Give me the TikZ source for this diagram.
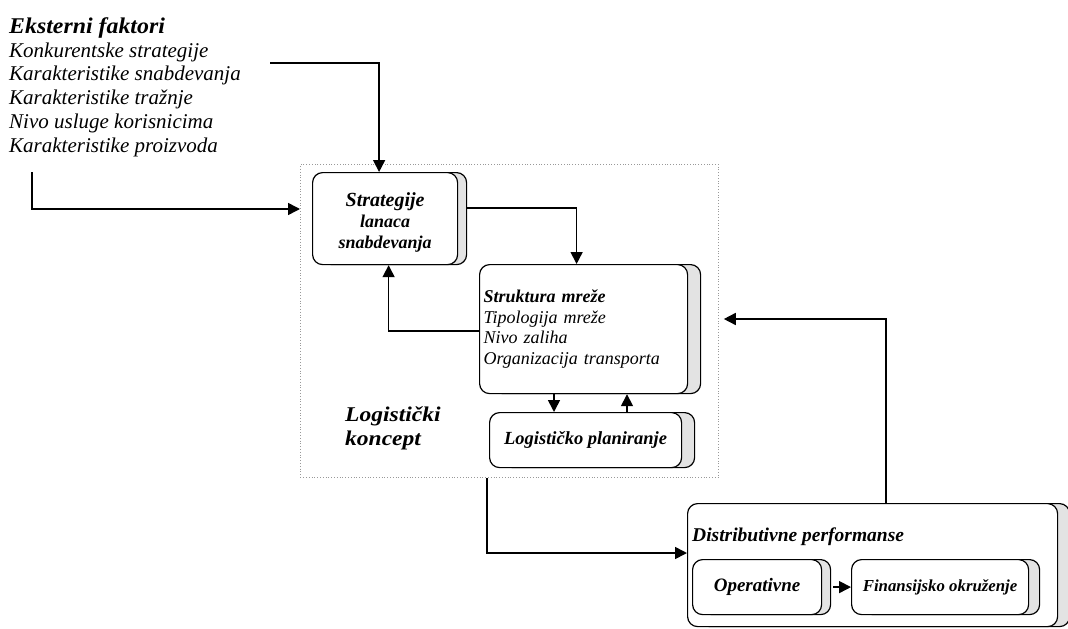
\documentclass[tikz,border=0pt]{standalone}
\usepackage{fontspec}
\setmainfont{Liberation Serif}
\newfontfamily\camh[FakeStretch=1.06]{Liberation Serif}
\newfontfamily\caml[FakeStretch=1.12]{Liberation Serif}
\usetikzlibrary{arrows.meta,shadows}
\begin{document}
\begin{tikzpicture}[x=1pt,y=-1pt,
  arr/.style={line width=1.6pt,-{Triangle[length=12pt,width=12pt]}},
  bx/.style={draw,line width=1.2pt,rounded corners=10pt,fill=white,inner sep=0pt,anchor=north west},
  sh/.style={general shadow={fill=gray!22,draw=black,line width=1.2pt,shadow xshift=#1,shadow yshift=0pt}},
  frame/.style={draw=gray!80,dotted,line width=0.8pt,inner sep=0pt,anchor=north west}]
\useasboundingbox (0,0) rectangle (1068,629);
% external factors
\node[anchor=north west,inner sep=0pt,align=left,font={\itshape\fontsize{21}{23.7}\selectfont}] (ext) at (9,17.5)
 {{\camh\bfseries\fontsize{22.5}{23.7}\selectfont Eksterni faktori}\\
  Konkurentske strategije\\ Karakteristike snabdevanja\\ Karakteristike tražnje\\
  Nivo usluge korisnicima\\ Karakteristike proizvoda};
% logistic concept frame
\node[frame,minimum width=418pt,minimum height=313pt] (lk) at (300,164) {};
\node[anchor=north west,inner sep=0pt,align=left,font={\caml\bfseries\itshape\fontsize{21}{24}\selectfont}] (lkt) at (345,406.5) {Logistički\\koncept};
% boxes
\node[bx,sh=9pt,minimum width=145pt,minimum height=92pt] (strat) at (312,172) {};
\node[inner sep=0pt,align=center,font={\bfseries\itshape\fontsize{18}{21}\selectfont}] (stratt) at ([yshift=-4pt]strat.center)
 {{\fontsize{20}{21}\selectfont Strategije}\\lanaca\\snabdevanja};
\node[bx,sh=13pt,minimum height=129pt,text width=200pt,inner xsep=4pt,align=left,font={\itshape\fontsize{18}{20.5}\selectfont}] (str) at (479,264)
 {\textbf{Struktura mreže}\\Tipologija mreže\\Nivo zaliha\\Organizacija transporta};
\node[bx,sh=13pt,minimum width=192pt,minimum height=55pt,font={\bfseries\itshape\fontsize{18.5}{21}\selectfont}] (lp) at (489,412) {Logističko planiranje};
\node[bx,sh=12pt,minimum width=370pt,minimum height=123pt] (dp) at (687,503) {};
\node[anchor=west,inner sep=0pt,font={\bfseries\itshape\fontsize{19.5}{22}\selectfont}] (dpt) at (692,537) {Distributivne performanse};
\node[bx,sh=9pt,minimum width=129pt,minimum height=55pt,font={\bfseries\itshape\fontsize{19}{22}\selectfont}] (op) at (692,559) {Operativne};
\node[bx,sh=11pt,minimum width=177pt,minimum height=55pt,font={\bfseries\itshape\fontsize{16.8}{20}\selectfont}] (fin) at (851,559) {Finansijsko okruženje};
% connectors
\coordinate (e1) at (270,63);
\coordinate (e2) at (32,172);
\draw[arr] (e1) -| ([xshift=-6pt]strat.north);
\draw[arr] (e2) |- (lk.west |- 0,209);
\draw[arr] ([xshift=9pt]strat.east |- 0,208) -| ([xshift=-7pt]str.north);
\draw[arr] (str.west |- 0,331) -| ([xshift=3.5pt]strat.south);
\draw[arr] (str.south -| 554,0) -- (lp.north -| 554,0);
\draw[arr] (lp.north -| 627,0) -- (str.south -| 627,0);
\draw[arr] (lk.south -| 487,0) |- (dp.west |- 0,553);
\draw[arr] (dp.north -| 886,0) |- ([xshift=5pt]lk.east |- 0,319);
\draw[arr] ([xshift=11pt]op.east) -- (fin.west);
\end{tikzpicture}
\end{document}
